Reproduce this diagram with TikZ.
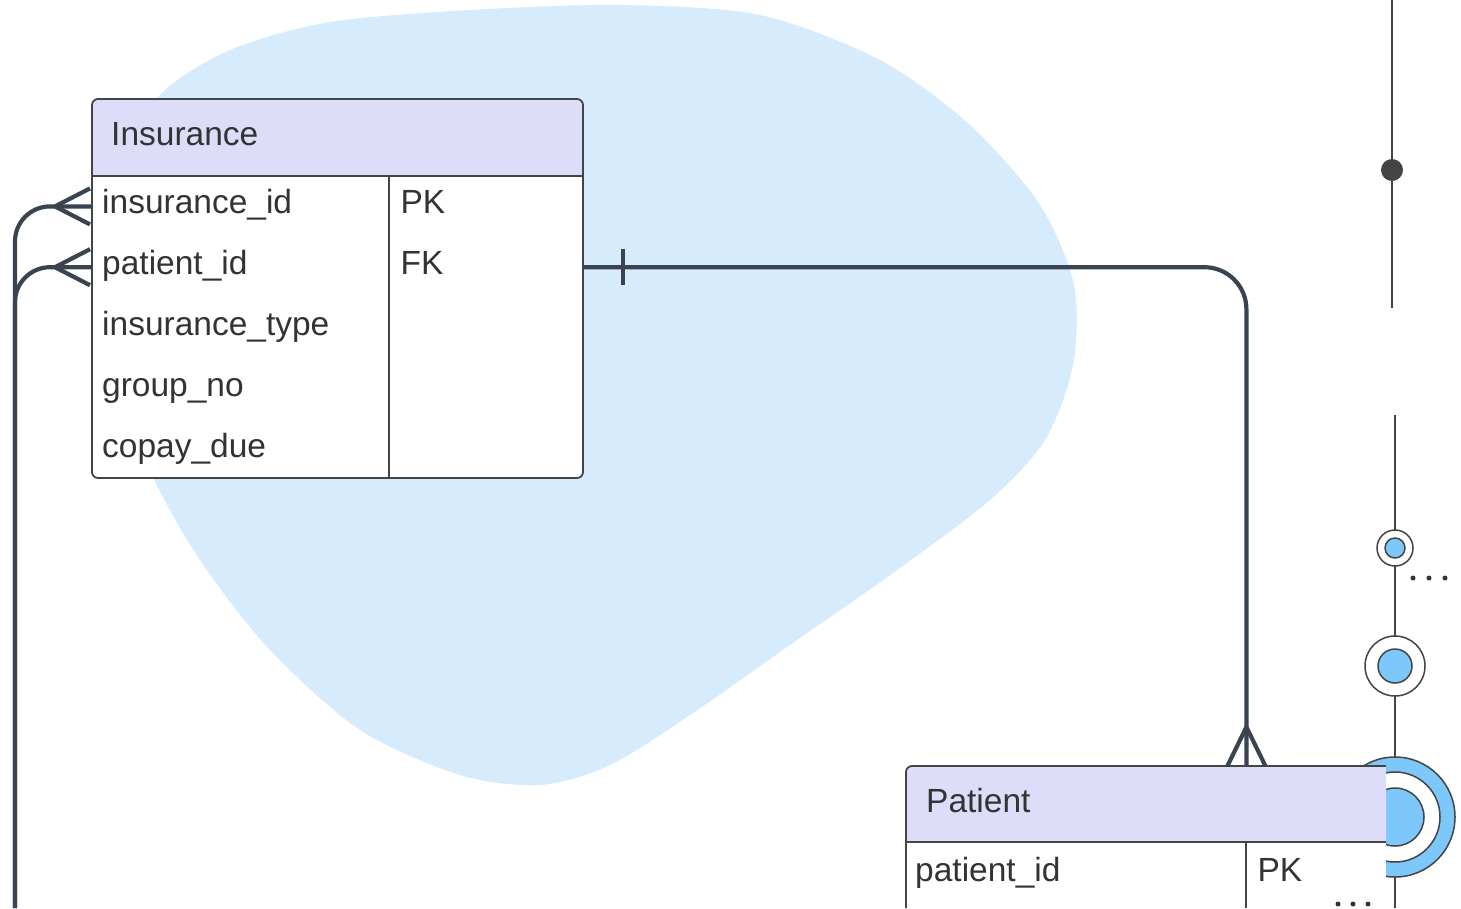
\documentclass[tikz,border=0pt]{standalone}
\usepackage{fontspec}
\setmainfont{Liberation Sans}
\usetikzlibrary{positioning,calc}
\definecolor{blobblue}{HTML}{D6EBFB}
\definecolor{headlilac}{HTML}{DDDDFA}
\definecolor{framegray}{HTML}{444444}
\definecolor{linkslate}{HTML}{3A4451}
\definecolor{dotblue}{HTML}{7DC8FB}
\definecolor{inkgray}{HTML}{333333}
\tikzset{
  cellfont/.style={font=\fontsize{33.5}{40}\selectfont, text=inkgray, text height=24pt, text depth=9pt},
  headcell/.style={cellfont, anchor=north west, minimum height=77pt, inner ysep=0pt, align=left},
  namecell/.style={cellfont, text width=277pt, inner xsep=10pt, inner ysep=0pt, minimum height=60.4pt, align=left},
  keycell/.style={cellfont, text width=172pt, inner xsep=11pt, inner ysep=0pt, minimum height=60.4pt, align=left},
  frame/.style={draw=framegray, line width=1.8pt},
  link/.style={draw=linkslate, line width=4.2pt, line join=round},
  deco/.style={draw=framegray, line width=2.5pt},
  ring/.style={draw=framegray, line width=1.5pt, fill=white}
}
\begin{document}
\begin{tikzpicture}[x=1pt,y=-1pt]
    \useasboundingbox (0,0) rectangle (1461,908);
    % background blob
    \fill[blobblue] plot[smooth cycle] coordinates {(160,95) (230,50) (330,22) (470,10) (620,5) (760,15) (880,60) (970,125) (1040,205) (1074,285) (1073,365) (1045,440) (990,500) (900,568) (790,645) (690,715) (610,765) (540,785) (460,775) (360,730) (270,650) (200,560) (150,470) (120,370) (115,260) (130,160)};
    % timeline on the right
    \draw[deco] (1392,0) -- (1392,308);
    \fill[framegray] (1392,170) circle (11);
    \draw[deco] (1395,415) -- (1395,908);
    \foreach \x in {1413,1429,1445}
        \fill[inkgray] (\x,578) circle (2.5);
    \draw[ring] (1395,548) circle (18);
    \draw[ring, fill=dotblue] (1395,548) circle (10);
    \draw[ring] (1395,666) circle (30);
    \draw[ring, fill=dotblue] (1395,666) circle (17);
    \draw[ring, fill=dotblue] (1395,817) circle (60);
    \draw[ring] (1395,817) circle (45);
    \draw[ring, fill=dotblue] (1395,817) circle (29);

    % Insurance table
    \fill[white, rounded corners=6] (92,99) rectangle (583,478);
    \fill[headlilac, rounded corners=6] (92,99) rectangle (583,176);
    \fill[headlilac] (92,140) rectangle (583,176);
    \draw[frame, rounded corners=6] (92,99) rectangle (583,478);
    \draw[frame] (92,176) -- (583,176) (389,176) -- (389,478);
    \node[headcell, text width=453pt, inner xsep=19pt] (insHead) at (92,99) {Insurance};
    \node[namecell, anchor=north west] (insId) at (92,176) {insurance\_id};
    \node[namecell, below=0pt of insId] (insPat) {patient\_id};
    \node[namecell, below=0pt of insPat] (insType) {insurance\_type};
    \node[namecell, below=0pt of insType] (insGroup) {group\_no};
    \node[namecell, below=0pt of insGroup] (insCopay) {copay\_due};
    \node[keycell, right=0pt of insId] (insIdKey) {PK};
    \node[keycell, right=0pt of insPat] (insPatKey) {FK};

    % Patient table (cut by the page)
    \fill[white] (906,842) rectangle (1386,908);
    \fill[headlilac, rounded corners=6] (906,766) rectangle (1386,842);
    \fill[headlilac] (1370,766) rectangle (1386,842);
    \fill[headlilac] (906,800) rectangle (1386,842);
    \draw[frame, rounded corners=6] (906,908) |- (1386,766);
    \draw[frame] (906,842) -- (1386,842) (1246,842) -- (1246,908);
    \node[headcell, text width=440pt, inner xsep=20pt] (patHead) at (906,766) {Patient};
    \node[namecell, text width=322pt, inner xsep=9pt, anchor=north west] (patId) at (patHead.south west) {patient\_id};
    \node[keycell, text width=118pt, right=0pt of patId] (patIdKey) {PK};
    \foreach \x in {1338,1353,1368}
        \fill[inkgray] (\x,904) circle (2.5);

    % relations
    \coordinate (patIn) at (patHead.north -| patIdKey.west);
    \coordinate (leftEnd) at (15,908);
    \draw[link, rounded corners=42] (insPatKey.east) -| (patIn);
    \draw[link] ($(insPatKey.east)+(39,-18)$) -- ++(0,36);
    \draw[link] ($(patIn)+(-19,0)$) -- ($(patIn)+(0,-39)$) -- ($(patIn)+(19,0)$);
    \draw[link, rounded corners=35] (insId.west) -| (leftEnd);
    \draw[link, rounded corners=35] (insPat.west) -| (leftEnd);
    \draw[link] ($(insId.west)+(-2,-18)$) -- ($(insId.west)+(-37,0)$) -- ($(insId.west)+(-2,18)$);
    \draw[link] ($(insPat.west)+(-2,-18)$) -- ($(insPat.west)+(-37,0)$) -- ($(insPat.west)+(-2,18)$);
\end{tikzpicture}
\end{document}
